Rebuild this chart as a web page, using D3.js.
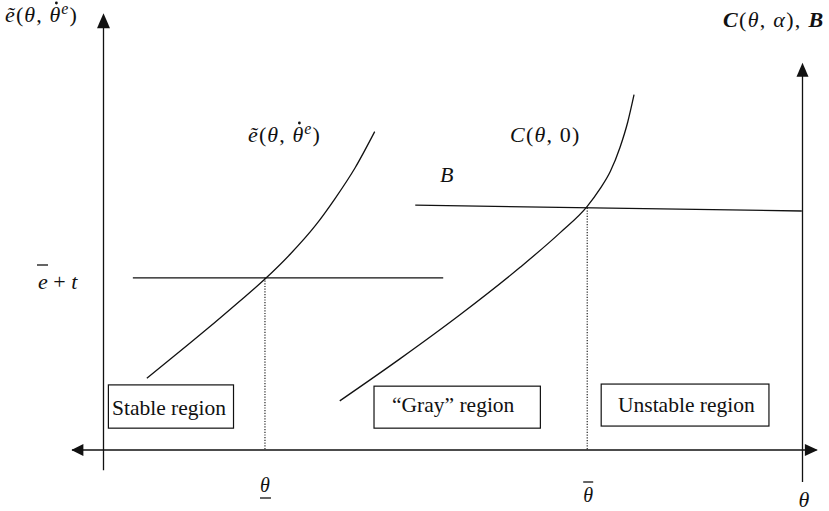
<!DOCTYPE html>
<html>
<head>
<meta charset="utf-8">
<script src="https://cdn.jsdelivr.net/npm/d3@7"></script>
<style>
  body { margin: 0; background: #fff; }
</style>
</head>
<body>
<script>
// Payoff curve ẽ(θ, θ̇ᵉ) sampled over θ
const eTildeTheta = [0.62, 1.05, 1.48, 1.91, 2.31, 2.67, 3.03, 3.31, 3.60, 3.88];
const eTildeValue = [1.71, 2.29, 2.88, 3.49, 4.07, 4.66, 5.34, 5.98, 6.72, 7.58];

// Cost curve C(θ, 0) sampled over θ
const costTheta = [3.38, 4.24, 5.10, 5.96, 6.53, 6.92, 7.10, 7.25, 7.39, 7.50, 7.59];
const costValue = [1.17, 2.17, 3.22, 4.35, 5.17, 5.80, 6.21, 6.63, 7.21, 7.81, 8.46];

// Horizontal reference levels: ē + t and B
const thresholdTheta = [0.42, 4.86];
const thresholdValue = [4.10, 4.10];
const benefitTheta = [4.46, 9.99];
const benefitValue = [5.83, 5.69];

// Critical fundamentals θ̲ and θ̄
const criticalTheta = [2.31, 6.92];

// Region captions, left to right
const regionLabels = ["Stable region", "\u201CGray\u201D region", "Unstable region"];

const W = 829, H = 511;
const svg = d3.select("body").append("svg")
  .attr("width", W).attr("height", H)
  .attr("font-family", "'Liberation Serif', 'Times New Roman', Times, 'DejaVu Serif', serif");

const x = d3.scaleLinear().domain([0, 10]).range([103.5, 802.5]);
const y = d3.scaleLinear().domain([0, 10]).range([450, 30]);

const ink = "#111";

// ---- axes (arrows, no ticks) ----
function arrowHead(tx, ty, dir, len, half) {
  let pts;
  if (dir === "up") pts = [[tx, ty], [tx - half, ty + len], [tx + half, ty + len]];
  else if (dir === "left") pts = [[tx, ty], [tx + len, ty - half], [tx + len, ty + half]];
  else pts = [[tx, ty], [tx - len, ty - half], [tx - len, ty + half]];
  svg.append("path").attr("d", d3.line()(pts) + "Z").attr("fill", ink);
}

// horizontal θ axis
svg.append("line")
  .attr("x1", x(-0.45)).attr("x2", x(10.2))
  .attr("y1", y(0)).attr("y2", y(0))
  .attr("stroke", ink).attr("stroke-width", 1.3);
arrowHead(x(-0.46), y(0), "left", 12, 6);
arrowHead(x(10.22), y(0), "right", 13, 6);

// left vertical axis
svg.append("line")
  .attr("x1", x(0)).attr("x2", x(0))
  .attr("y1", y(-0.48)).attr("y2", y(10.2))
  .attr("stroke", ink).attr("stroke-width", 1.3);
arrowHead(x(0), y(10.4), "up", 15, 6.5);

// right vertical axis
svg.append("line")
  .attr("x1", x(10)).attr("x2", x(10))
  .attr("y1", y(-0.76)).attr("y2", y(9.0))
  .attr("stroke", ink).attr("stroke-width", 1.3);
arrowHead(x(10), y(9.22), "up", 14, 6);

// ---- reference levels ----
function segment(thetas, values) {
  svg.append("line")
    .attr("x1", x(thetas[0])).attr("x2", x(thetas[1]))
    .attr("y1", y(values[0])).attr("y2", y(values[1]))
    .attr("stroke", ink).attr("stroke-width", 1.3);
}
segment(thresholdTheta, thresholdValue);
segment(benefitTheta, benefitValue);

// ---- curves ----
const curveLine = d3.line()
  .x(d => x(d[0])).y(d => y(d[1]))
  .curve(d3.curveMonotoneX);

svg.append("path")
  .attr("d", curveLine(d3.zip(eTildeTheta, eTildeValue)))
  .attr("fill", "none").attr("stroke", ink).attr("stroke-width", 1.3);
svg.append("path")
  .attr("d", curveLine(d3.zip(costTheta, costValue)))
  .attr("fill", "none").attr("stroke", ink).attr("stroke-width", 1.3);

// ---- dotted drop lines at θ̲ and θ̄ ----
const levelAt = (thetas, values, t) =>
  values[0] + (values[1] - values[0]) * (t - thetas[0]) / (thetas[1] - thetas[0]);
const dropTop = [
  levelAt(thresholdTheta, thresholdValue, criticalTheta[0]),
  levelAt(benefitTheta, benefitValue, criticalTheta[1])
];
criticalTheta.forEach((t, i) => {
  svg.append("line")
    .attr("x1", x(t)).attr("x2", x(t))
    .attr("y1", y(dropTop[i])).attr("y2", y(0))
    .attr("stroke", ink).attr("stroke-width", 1.1)
    .attr("stroke-dasharray", "1.2,1.5");
});

// ---- region boxes ----
const boxes = [
  { t0: 0.07, t1: 1.86, v0: 0.52, v1: 1.55, tx: 112, ty: 415 },
  { t0: 3.87, t1: 6.25, v0: 0.52, v1: 1.52, tx: 392, ty: 412 },
  { t0: 7.12, t1: 9.52, v0: 0.57, v1: 1.57, tx: 618, ty: 412 }
];
boxes.forEach((b, i) => {
  svg.append("rect")
    .attr("x", x(b.t0)).attr("y", y(b.v1))
    .attr("width", x(b.t1) - x(b.t0)).attr("height", y(b.v0) - y(b.v1))
    .attr("fill", "#fff").attr("stroke", ink).attr("stroke-width", 1.2);
  svg.append("text")
    .attr("x", b.tx).attr("y", b.ty)
    .attr("font-size", 21.5).attr("fill", ink)
    .text(regionLabels[i]);
});

// ---- math labels ----
function eTildeLabel(px, py, size) {
  const t = svg.append("text").attr("x", px).attr("y", py)
    .attr("font-size", size).attr("fill", ink).attr("letter-spacing", 1.1);
  t.append("tspan").attr("font-style", "italic").text("\u1EBD");
  t.append("tspan").text("(");
  t.append("tspan").attr("font-style", "italic").text("\u03B8");
  t.append("tspan").text(", ");
  const dotted = t.append("tspan").attr("font-style", "italic").text("\u03B8");
  t.append("tspan").attr("font-style", "italic").attr("font-size", size * 0.72)
    .attr("dy", -size * 0.38).text("e");
  t.append("tspan").attr("dy", size * 0.38).text(")");
  // time-derivative dot above the second θ
  const bb = dotted.node().getBBox();
  svg.append("circle")
    .attr("cx", bb.x + bb.width * 0.5 + 1)
    .attr("cy", bb.y + 1)
    .attr("r", 1.4).attr("fill", ink);
}
eTildeLabel(5, 22, 22);
eTildeLabel(248, 142, 22);

// C(θ, 0)
{
  const t = svg.append("text").attr("x", 510).attr("y", 142)
    .attr("font-size", 22).attr("fill", ink).attr("letter-spacing", 1.2);
  t.append("tspan").attr("font-style", "italic").text("C");
  t.append("tspan").text("(");
  t.append("tspan").attr("font-style", "italic").text("\u03B8");
  t.append("tspan").text(", 0)");
}

// B
svg.append("text").attr("x", 440).attr("y", 182).attr("font-size", 22)
  .attr("fill", ink).attr("font-style", "italic").text("B");

// C(θ, α), B
{
  const t = svg.append("text").attr("x", 723).attr("y", 27)
    .attr("font-size", 22).attr("fill", ink).attr("letter-spacing", 1.3);
  t.append("tspan").attr("font-style", "italic").attr("font-weight", "bold").text("C");
  t.append("tspan").text("(");
  t.append("tspan").attr("font-style", "italic").text("\u03B8");
  t.append("tspan").text(", ");
  t.append("tspan").attr("font-style", "italic").text("\u03B1");
  t.append("tspan").text("), ");
  t.append("tspan").attr("font-style", "italic").attr("font-weight", "bold").text("B");
}

// ē + t
{
  const t = svg.append("text").attr("x", 38).attr("y", 289)
    .attr("font-size", 22).attr("fill", ink);
  t.append("tspan").attr("font-style", "italic").text("e");
  t.append("tspan").text(" + ");
  t.append("tspan").attr("font-style", "italic").text("t");
  svg.append("line").attr("x1", 37).attr("x2", 48).attr("y1", 265).attr("y2", 265)
    .attr("stroke", ink).attr("stroke-width", 1.3);
}

// θ̲ and θ̄ under the axis
svg.append("text").attr("x", x(criticalTheta[0])).attr("y", 492)
  .attr("font-size", 20).attr("fill", ink).attr("font-style", "italic")
  .attr("text-anchor", "middle").text("\u03B8");
svg.append("line").attr("x1", x(criticalTheta[0]) - 5).attr("x2", x(criticalTheta[0]) + 6)
  .attr("y1", 498).attr("y2", 498).attr("stroke", ink).attr("stroke-width", 1.3);

svg.append("text").attr("x", x(criticalTheta[1]) + 1).attr("y", 502)
  .attr("font-size", 20).attr("fill", ink).attr("font-style", "italic")
  .attr("text-anchor", "middle").text("\u03B8");
svg.append("line").attr("x1", x(criticalTheta[1]) - 4).attr("x2", x(criticalTheta[1]) + 6)
  .attr("y1", 482).attr("y2", 482).attr("stroke", ink).attr("stroke-width", 1.3);

// θ axis name
svg.append("text").attr("x", 804).attr("y", 507)
  .attr("font-size", 22).attr("fill", ink).attr("font-style", "italic")
  .attr("text-anchor", "middle").text("\u03B8");
</script>
</body>
</html>
